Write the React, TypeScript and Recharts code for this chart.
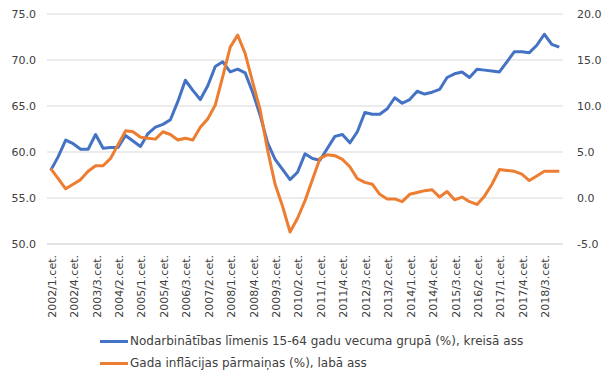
import React from 'react';
import { LineChart, Line, XAxis, YAxis, CartesianGrid, Legend } from 'recharts';

const quarters = [
  '2002/1.cet.', '2002/2.cet.', '2002/3.cet.', '2002/4.cet.',
  '2003/1.cet.', '2003/2.cet.', '2003/3.cet.', '2003/4.cet.',
  '2004/1.cet.', '2004/2.cet.', '2004/3.cet.', '2004/4.cet.',
  '2005/1.cet.', '2005/2.cet.', '2005/3.cet.', '2005/4.cet.',
  '2006/1.cet.', '2006/2.cet.', '2006/3.cet.', '2006/4.cet.',
  '2007/1.cet.', '2007/2.cet.', '2007/3.cet.', '2007/4.cet.',
  '2008/1.cet.', '2008/2.cet.', '2008/3.cet.', '2008/4.cet.',
  '2009/1.cet.', '2009/2.cet.', '2009/3.cet.', '2009/4.cet.',
  '2010/1.cet.', '2010/2.cet.', '2010/3.cet.', '2010/4.cet.',
  '2011/1.cet.', '2011/2.cet.', '2011/3.cet.', '2011/4.cet.',
  '2012/1.cet.', '2012/2.cet.', '2012/3.cet.', '2012/4.cet.',
  '2013/1.cet.', '2013/2.cet.', '2013/3.cet.', '2013/4.cet.',
  '2014/1.cet.', '2014/2.cet.', '2014/3.cet.', '2014/4.cet.',
  '2015/1.cet.', '2015/2.cet.', '2015/3.cet.', '2015/4.cet.',
  '2016/1.cet.', '2016/2.cet.', '2016/3.cet.', '2016/4.cet.',
  '2017/1.cet.', '2017/2.cet.', '2017/3.cet.', '2017/4.cet.',
  '2018/1.cet.', '2018/2.cet.', '2018/3.cet.', '2018/4.cet.',
  '2019/1.cet.',
];

const employmentRate = [
  58.0, 59.5, 61.3, 60.9, 60.3, 60.3, 61.9, 60.4, 60.5, 60.5,
  61.8, 61.2, 60.6, 62.0, 62.7, 63.0, 63.5, 65.5, 67.8, 66.7,
  65.7, 67.2, 69.3, 69.8, 68.7, 69.0, 68.6, 66.5, 64.0, 61.0,
  59.2, 58.1, 57.0, 57.8, 59.8, 59.3, 59.1, 60.4, 61.7, 61.9,
  61.0, 62.2, 64.3, 64.1, 64.1, 64.7, 65.9, 65.3, 65.7, 66.6,
  66.3, 66.5, 66.8, 68.1, 68.5, 68.7, 68.1, 69.0, 68.9, 68.8,
  68.7, 69.8, 70.9, 70.9, 70.8, 71.6, 72.8, 71.7, 71.4,
];

const inflation = [
  3.2, 2.1, 1.0, 1.5, 2.0, 2.9, 3.5, 3.5, 4.3, 5.8,
  7.3, 7.2, 6.6, 6.5, 6.4, 7.2, 6.9, 6.3, 6.5, 6.3,
  7.7, 8.6, 10.1, 13.2, 16.4, 17.7, 15.7, 12.6, 9.6, 5.2,
  1.5, -0.9, -3.7, -2.2, -0.3, 2.0, 4.3, 4.7, 4.6, 4.2,
  3.4, 2.1, 1.7, 1.5, 0.4, -0.1, -0.1, -0.4, 0.4, 0.6,
  0.8, 0.9, 0.1, 0.7, -0.2, 0.1, -0.4, -0.7, 0.2, 1.5,
  3.1, 3.0, 2.9, 2.6, 1.9, 2.4, 2.9, 2.9, 2.9,
];

const leftTicks = [50, 55, 60, 65, 70, 75];
const rightTicks = [-5, 0, 5, 10, 15, 20];

const seriesNames = [
  'Nodarbinātības līmenis 15-64 gadu vecuma grupā (%), kreisā ass',
  'Gada inflācijas pārmaiņas (%), labā ass',
];
const seriesColors = ['#4472C4', '#ED7D31'];

const data = quarters.map((q, i) => ({
  q,
  emp: employmentRate[i],
  inf: inflation[i],
}));

const FONT = '"DejaVu Sans", Verdana, sans-serif';
const TEXT = '#404040';

const XTick = (props: any) => {
  const { x, y, payload } = props;
  return (
    <g transform={`translate(${x},${y})`}>
      <text
        transform="rotate(-90)"
        x={-11}
        y={0}
        dy="0.45em"
        textAnchor="end"
        fontSize={11}
        fontFamily={FONT}
        fill={TEXT}
      >
        {payload.value}
      </text>
    </g>
  );
};

const LegendContent = () => (
  <div
    style={{
      height: 53,
      width: 612,
      fontFamily: FONT,
      fontSize: 12,
      color: TEXT,
      boxSizing: 'border-box',
      paddingLeft: 100,
      textAlign: 'left',
    }}
  >
    {seriesNames.map((name, i) => (
      <div key={name} style={{ height: 22, display: 'flex', alignItems: 'center' }}>
        <span
          style={{
            display: 'inline-block',
            width: 28,
            height: 3,
            background: seriesColors[i],
            marginRight: 2,
          }}
        />
        <span>{name}</span>
      </div>
    ))}
  </div>
);

export default function App() {
  return (
    <div style={{ position: 'absolute', left: 0, top: 0, width: 612, height: 383, background: '#fff' }}>
      <LineChart
        width={612}
        height={383}
        data={data}
        margin={{ top: 14, right: 0, bottom: 0, left: 0 }}
      >
        <CartesianGrid vertical={false} stroke="#D9D9D9" strokeWidth={1} yAxisId="left" />
        <XAxis
          dataKey="q"
          interval={2}
          tick={<XTick />}
          tickLine={false}
          tickSize={0}
          tickMargin={0}
          axisLine={{ stroke: '#D9D9D9' }}
          height={86}
          padding={{ left: 3.74, right: 3.74 }}
        />
        <YAxis
          yAxisId="left"
          orientation="left"
          domain={[50, 75]}
          ticks={leftTicks}
          tickFormatter={(v: number) => v.toFixed(1)}
          width={47}
          axisLine={false}
          tickLine={false}
          tickSize={0}
          tickMargin={11}
          tick={{ fontSize: 11, fontFamily: FONT, fill: TEXT }}
          allowDataOverflow
        />
        <YAxis
          yAxisId="right"
          orientation="right"
          domain={[-5, 20]}
          ticks={rightTicks}
          tickFormatter={(v: number) => v.toFixed(1)}
          width={49}
          axisLine={false}
          tickLine={false}
          tickSize={0}
          tickMargin={14}
          tick={{ fontSize: 11, fontFamily: FONT, fill: TEXT, textAnchor: 'start' }}
          allowDataOverflow
        />
        <Legend
          verticalAlign="bottom"
          align="center"
          layout="horizontal"
          content={<LegendContent />}
          wrapperStyle={{ left: 0, width: 612 }}
        />
        <Line
          yAxisId="left"
          type="linear"
          dataKey="emp"
          name={seriesNames[0]}
          stroke={seriesColors[0]}
          strokeWidth={3}
          dot={false}
          strokeLinejoin="round"
          isAnimationActive={false}
        />
        <Line
          yAxisId="right"
          type="linear"
          dataKey="inf"
          name={seriesNames[1]}
          stroke={seriesColors[1]}
          strokeWidth={3}
          dot={false}
          strokeLinejoin="round"
          isAnimationActive={false}
        />
      </LineChart>
    </div>
  );
}
